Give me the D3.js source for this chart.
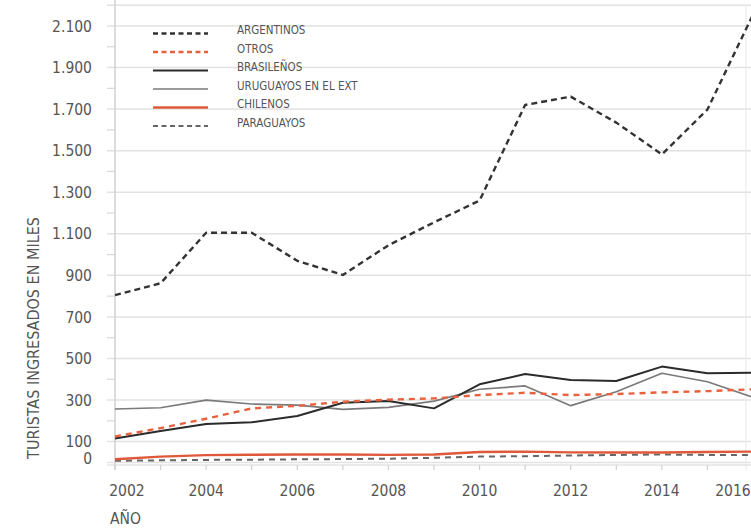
<!DOCTYPE html>
<html>
<head>
<meta charset="utf-8">
<script src="https://cdn.jsdelivr.net/npm/d3@7/dist/d3.min.js"></script>
<style>
  html, body { margin: 0; padding: 0; background: #fff; }
  svg { display: block; }
  text { font-family: "Liberation Sans Narrow", "DejaVu Sans Condensed", "Arial Narrow", sans-serif; font-stretch: condensed; fill: #555; }
</style>
</head>
<body>
<svg id="chart" width="751" height="529"></svg>
<script>
const years = [2002,2003,2004,2005,2006,2007,2008,2009,2010,2011,2012,2013,2014,2015,2016];
const argentinos = [805,862,1105,1105,970,902,1045,1155,1260,1720,1760,1635,1482,1698,2155];
const otros      = [125,165,210,260,272,292,302,308,324,335,324,329,337,343,352];
const brasilenos = [115,151,185,193,223,287,295,260,376,425,397,392,461,429,432];
const uruguayos  = [257,263,300,281,276,255,265,295,352,368,273,340,429,388,313];
const chilenos   = [15,28,35,37,38,38,36,38,50,52,48,48,48,50,52];
const paraguayos = [8,10,12,13,15,16,18,22,28,30,33,36,38,36,35];
const yTickLabels = [0,100,300,500,700,900,1100,1300,1500,1700,1900,2100];
const yMinorTicks = [200,400,600,800,1000,1200,1400,1600,1800,2000];
const xTickLabels = [2002,2004,2006,2008,2010,2012,2014,2016];
const seriesNames = ["ARGENTINOS","OTROS","BRASILEÑOS","URUGUAYOS EN EL EXT","CHILENOS","PARAGUAYOS"];
const seriesValues = [argentinos, otros, brasilenos, uruguayos, chilenos, paraguayos];
const seriesStyles = [
  {color:"#333333", width:2.4, dash:"6,4"},
  {color:"#e8603c", width:2.4, dash:"6,5"},
  {color:"#2b2b2b", width:2.0, dash:null},
  {color:"#7a7a7a", width:1.7, dash:null},
  {color:"#e0583a", width:2.4, dash:null},
  {color:"#666666", width:2.0, dash:"6,5"}
];

const svg = d3.select("#chart");
const W = 751, H = 529;
const x = d3.scaleLinear().domain([2002, 2016]).range([115, 753]);
const y = d3.scaleLinear().domain([0, 2200]).range([462.4, 5.2]);

const g = svg.append("g");

// gridlines
g.selectAll("line.grid").data(yTickLabels.concat([2200])).enter().append("line")
  .attr("x1", 107).attr("x2", W).attr("y1", d => y(d)).attr("y2", d => y(d))
  .attr("stroke", "#e2e2e2").attr("stroke-width", 1.5);
// minor ticks
g.selectAll("line.minor").data(yMinorTicks).enter().append("line")
  .attr("x1", 107).attr("x2", 115).attr("y1", d => y(d)).attr("y2", d => y(d))
  .attr("stroke", "#d8d8d8").attr("stroke-width", 1.2);
// y axis line
g.append("line").attr("x1", 115).attr("x2", 115).attr("y1", 0).attr("y2", 470)
  .attr("stroke", "#d0d0d0").attr("stroke-width", 1.5);
// right frame line
g.append("line").attr("x1", 746).attr("x2", 746).attr("y1", 5).attr("y2", 470)
  .attr("stroke", "#ececec").attr("stroke-width", 1.2);
// bottom axis line
g.append("line").attr("x1", 107).attr("x2", W).attr("y1", 465).attr("y2", 465)
  .attr("stroke", "#d8d8d8").attr("stroke-width", 1.2);
// x ticks
g.selectAll("line.xt").data(years).enter().append("line")
  .attr("x1", d => x(d)).attr("x2", d => x(d)).attr("y1", 465).attr("y2", 470)
  .attr("stroke", "#cfcfcf").attr("stroke-width", 1.2);

// y tick labels
g.selectAll("text.yl").data(yTickLabels).enter().append("text")
  .attr("x", 92).attr("y", d => d === 0 ? y(d) - 4 : y(d))
  .attr("dy", "0.36em").attr("text-anchor", "end")
  .attr("font-size", 15.5)
  .text(d => d3.format(",")(d).replace(/,/g, "."));

// x tick labels
g.selectAll("text.xl").data(xTickLabels).enter().append("text")
  .attr("x", d => Math.min(Math.max(x(d), 127), 733)).attr("y", 496)
  .attr("text-anchor", "middle").attr("font-size", 15.5)
  .text(d => d);

// axis titles
g.append("text").attr("x", 110).attr("y", 524).attr("font-size", 15.5).text("AÑO");
g.append("text").attr("transform", "translate(39,338) rotate(-90)")
  .attr("text-anchor", "middle").attr("font-size", 16)
  .text("TURISTAS INGRESADOS EN MILES");

// series lines
const line = d3.line().x((d, i) => x(years[i])).y(d => y(d));
const order = [3, 2, 1, 5, 4, 0];
order.forEach(k => {
  const s = seriesStyles[k];
  g.append("path").datum(seriesValues[k])
    .attr("d", line).attr("fill", "none")
    .attr("stroke", s.color).attr("stroke-width", s.width)
    .attr("stroke-dasharray", s.dash)
    .attr("stroke-linejoin", "round");
});

// legend
const leg = g.append("g");
seriesNames.forEach((name, i) => {
  const s = seriesStyles[i];
  const ly = 33.5 + i * 18.5;
  leg.append("line").attr("x1", 153).attr("x2", 208).attr("y1", ly).attr("y2", ly)
    .attr("stroke", s.color).attr("stroke-width", s.width)
    .attr("stroke-dasharray", s.dash ? "5,3.5" : null);
  leg.append("text").attr("x", 237).attr("y", ly - 3.5).attr("dy", "0.36em")
    .attr("font-size", 11.5).attr("fill", "#444").text(name);
});
</script>
</body>
</html>
